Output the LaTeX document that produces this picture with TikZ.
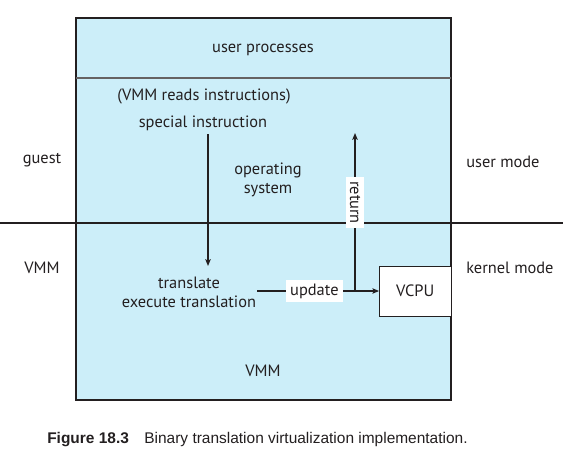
\documentclass[tikz,border=0pt]{standalone}
\usepackage{fontspec}
\setmainfont{PT Sans}
\newfontfamily\capfont{Liberation Sans}
\usetikzlibrary{arrows.meta}
\definecolor{vmmfill}{HTML}{CCEEF9}
\definecolor{inkgray}{HTML}{231F20}

\begin{document}
\begin{tikzpicture}[x=0.75pt,y=0.75pt,yscale=-1,xscale=1,
  every node/.style={text=inkgray, font=\fontsize{12.3}{14.25}\selectfont},
  lbl/.style={inner sep=0.75pt, align=center},
  tag/.style={fill=white, inner sep=3pt},
  flow/.style={draw=inkgray, line width=1.1pt, -{Stealth[length=5pt,width=4pt,inset=1pt]}}]
\path[use as bounding box] (0,0) rectangle (577,471);
%Rect [id:guestbox]
\draw[draw=inkgray, fill=vmmfill, line width=0.9pt] (76,18) rectangle (451,400);
%Straight Lines [id:userline]
\draw[draw=inkgray!70, line width=0.8pt] (76,78) -- (451,78);
%Straight Lines [id:modeline]
\coordinate (modeL) at (0,223);
\coordinate (modeR) at (563,223);
\draw[draw=inkgray, line width=0.9pt] (modeL) -- (modeR);
% Text Node
\draw (263,50) node [lbl] (userproc) {user processes};
% Text Node
\draw (204,96) node [lbl] (reads) {(VMM reads instructions)};
% Text Node
\draw (203,123) node [lbl] (special) {special instruction};
% Text Node
\draw (268,180) node [lbl] (os) {operating\\system};
% Text Node
\draw (189,292) node [lbl] (trans) {translate\\execute translation};
% Text Node
\draw (263,371) node [lbl] (vmm) {VMM};
% VCPU box
\draw (415.25,291) node [draw=inkgray, fill=white, line width=0.6pt, minimum width=53.6pt, minimum height=37.5pt] (vcpu) {VCPU};
% Side labels
\draw (42,160) node [lbl] (guest) {guest};
\draw (42,268) node [lbl] (vmmside) {VMM};
\draw (465,162) node [lbl, anchor=west] (usermode) {user mode};
\draw (465,268) node [lbl, anchor=west] (kernelmode) {kernel mode};
%Arrows
\coordinate (downtop) at (208,134);
\coordinate (downend) at (208,266);
\draw[flow] (downtop) -- (downend);
\coordinate (transend) at (257,291);
\draw[flow] (transend) -- node [tag, pos=0.47] (update) {update} (vcpu.west);
\coordinate (junc) at (355,291);
\coordinate (rettop) at (355,133);
\draw[flow] (junc) -- node [tag, pos=0.56, rotate=-90] (ret) {return} (rettop);
% Caption
\draw (47,440) node [anchor=west, inner sep=0pt, font=\capfont\fontsize{11.6}{13}\selectfont] (caption) {\textbf{Figure 18.3}\quad Binary translation virtualization implementation.};
\end{tikzpicture}
\end{document}
